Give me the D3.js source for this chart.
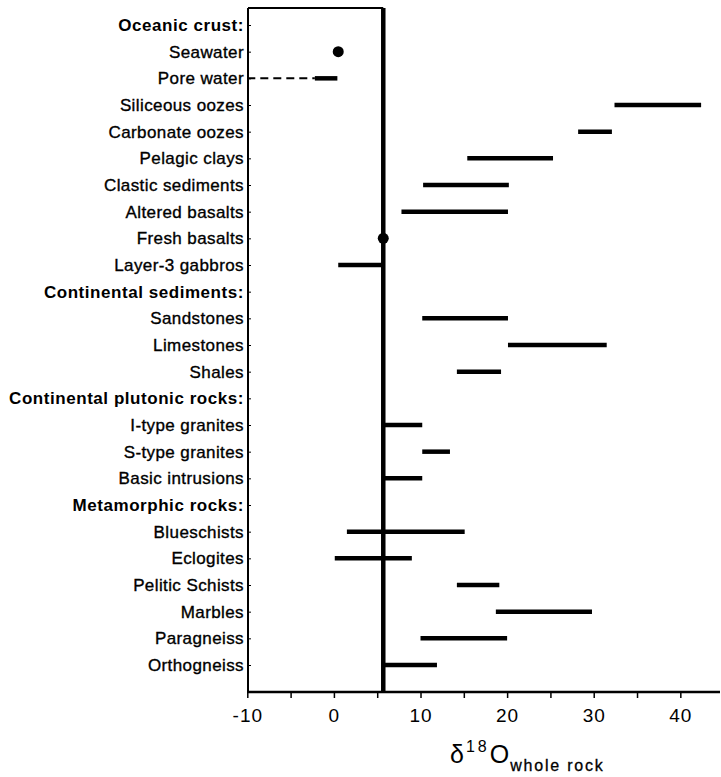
<!DOCTYPE html>
<html>
<head>
<meta charset="utf-8">
<script src="https://cdn.jsdelivr.net/npm/d3@7"></script>
<style>
  html, body { margin: 0; padding: 0; background: #fff; }
  svg { display: block; font-family: "Liberation Sans", Arial, Helvetica, sans-serif; }
</style>
</head>
<body>
<svg id="chart" width="721" height="777"></svg>
<script>
// ---- data ----
const categories = [
  "Oceanic crust:", "Seawater", "Pore water", "Siliceous oozes", "Carbonate oozes",
  "Pelagic clays", "Clastic sediments", "Altered basalts", "Fresh basalts", "Layer-3 gabbros",
  "Continental sediments:", "Sandstones", "Limestones", "Shales",
  "Continental plutonic rocks:", "I-type granites", "S-type granites", "Basic intrusions",
  "Metamorphic rocks:", "Blueschists", "Eclogites", "Pelitic Schists", "Marbles",
  "Paragneiss", "Orthogneiss"
];
const headerRows = ["Oceanic crust:", "Continental sediments:", "Continental plutonic rocks:", "Metamorphic rocks:"];
const rangeCategories = [
  "Pore water", "Siliceous oozes", "Carbonate oozes", "Pelagic clays", "Clastic sediments",
  "Altered basalts", "Layer-3 gabbros", "Sandstones", "Limestones", "Shales",
  "I-type granites", "S-type granites", "Basic intrusions", "Blueschists", "Eclogites",
  "Pelitic Schists", "Marbles", "Paragneiss", "Orthogneiss"
];
const rangeLow  = [-2.2, 32.4, 28.2, 15.4, 10.3, 7.8, 0.5, 10.2, 20.1, 14.2, 5.7, 10.2, 5.7, 1.5, 0.1, 14.2, 18.7, 10.0, 5.7];
const rangeHigh = [ 0.4, 42.4, 32.1, 25.3, 20.2, 20.1, 5.7, 20.1, 31.5, 19.3, 10.2, 13.4, 10.2, 15.1, 9.0, 19.1, 29.8, 20.0, 11.9];
const dashedCategories = ["Pore water"];
const dashedLow  = [-10];
const dashedHigh = [-2.2];
const pointCategories = ["Seawater", "Fresh basalts"];
const pointValues = [0.5, 5.7];
const mantleValue = 5.7;
const xTickValues = [-10, -5, 0, 5, 10, 15, 20, 25, 30, 35, 40];
const xTickLabels = ["-10", "0", "10", "20", "30", "40"];

// ---- layout ----
const svg = d3.select("#chart");
const plotLeft = 248, plotRight = 720, plotTop = 8, plotBottom = 692;

const x = d3.scaleLinear().domain([-10, 44.5]).range([247.3, 719.3]);
const y = d3.scalePoint().domain(categories).range([25, 665]);

// x-axis
const xAxis = d3.axisBottom(x)
  .tickValues(xTickValues)
  .tickSize(6)
  .tickFormat(d => xTickLabels.includes(String(d)) ? String(d) : "");
const gx = svg.append("g").attr("transform", `translate(0,${plotBottom})`).call(xAxis);
gx.select(".domain").attr("d", `M${plotLeft - 1},0H${plotRight}`).attr("stroke", "#000").attr("stroke-width", 2.5);
gx.selectAll(".tick line").attr("stroke", "#000").attr("stroke-width", 1.5);
gx.selectAll(".tick text")
  .attr("font-size", 19).attr("letter-spacing", "1px").attr("fill", "#000")
  .attr("font-family", "'Liberation Sans', Arial, sans-serif")
  .attr("y", 17);

// y-axis
const yAxis = d3.axisLeft(y).tickSize(-3).tickPadding(6);
const gy = svg.append("g").attr("transform", `translate(${plotLeft},0)`).call(yAxis);
gy.select(".domain").attr("d", `M0,${plotTop}V${plotBottom}`).attr("stroke", "#000").attr("stroke-width", 2);
gy.selectAll(".tick line").attr("stroke", "#000").attr("stroke-width", 1);
gy.selectAll(".tick text")
  .attr("font-size", 17)
  .attr("letter-spacing", d => headerRows.includes(d) ? "0.55px" : "0.4px")
  .attr("fill", "#000")
  .attr("font-family", "'Liberation Sans', Arial, sans-serif")
  .attr("font-weight", d => headerRows.includes(d) ? "bold" : "normal")
  .attr("stroke", d => headerRows.includes(d) ? "none" : "#000")
  .attr("stroke-width", 0.35)
  .attr("x", -4);

// top frame segment (to the mantle line)
svg.append("line")
  .attr("x1", plotLeft).attr("x2", x(mantleValue))
  .attr("y1", plotTop).attr("y2", plotTop)
  .attr("stroke", "#000").attr("stroke-width", 2);

// mantle reference line
svg.append("line")
  .attr("x1", x(mantleValue)).attr("x2", x(mantleValue))
  .attr("y1", plotTop).attr("y2", plotBottom)
  .attr("stroke", "#000").attr("stroke-width", 4.5);

// dashed extensions
svg.append("g").selectAll("line")
  .data(dashedCategories)
  .join("line")
  .attr("x1", (d, i) => x(dashedLow[i]))
  .attr("x2", (d, i) => x(dashedHigh[i]))
  .attr("y1", d => y(d)).attr("y2", d => y(d))
  .attr("stroke", "#000").attr("stroke-width", 2)
  .attr("stroke-dasharray", "8,5");

// range bars
svg.append("g").selectAll("line")
  .data(rangeCategories)
  .join("line")
  .attr("x1", (d, i) => x(rangeLow[i]))
  .attr("x2", (d, i) => x(rangeHigh[i]))
  .attr("y1", d => y(d)).attr("y2", d => y(d))
  .attr("stroke", "#000").attr("stroke-width", 4.5);

// points
svg.append("g").selectAll("circle")
  .data(pointCategories)
  .join("circle")
  .attr("cx", (d, i) => x(pointValues[i]))
  .attr("cy", d => y(d))
  .attr("r", 5.5)
  .attr("fill", "#000");

// x-axis title: δ18O whole rock
const title = svg.append("text")
  .attr("x", 450).attr("y", 763)
  .attr("fill", "#000")
  .attr("font-family", "'Liberation Sans', Arial, sans-serif");
title.append("tspan").attr("font-size", 25).attr("letter-spacing", "2px").text("δ");
title.append("tspan").attr("font-size", 16).attr("dy", -11).attr("letter-spacing", "3px").text("18");
title.append("tspan").attr("font-size", 25).attr("dy", 11).attr("letter-spacing", "1px").text("O");
title.append("tspan").attr("font-size", 16).attr("dy", 8).attr("letter-spacing", "1.8px")
  .attr("stroke", "#000").attr("stroke-width", 0.3).text("whole rock");
</script>
</body>
</html>
